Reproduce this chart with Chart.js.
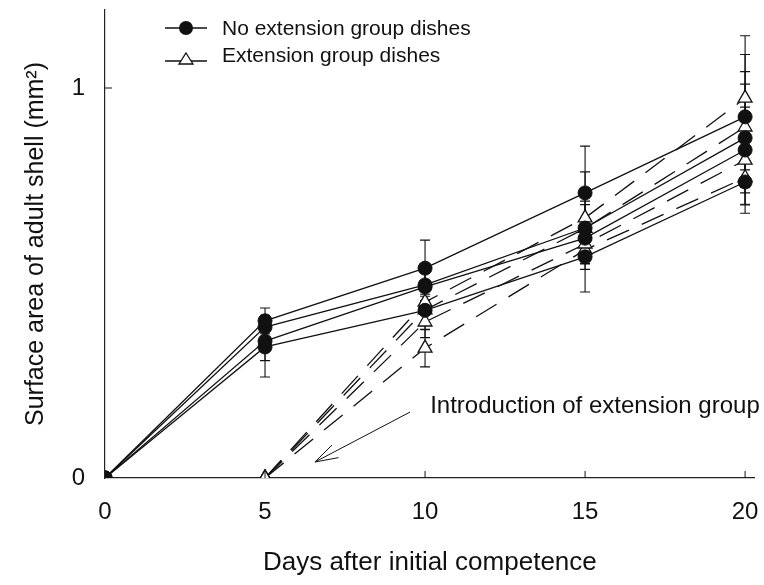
<!DOCTYPE html>
<html>
<head>
<meta charset="utf-8">
<script src="https://cdn.jsdelivr.net/npm/chart.js@4.4.1/dist/chart.umd.min.js"></script>
<style>
  body { margin: 0; background: #fff; }
</style>
</head>
<body>
<canvas id="myChart" width="764" height="585"></canvas>
<script>
// days on x axis
const days = [0, 5, 10, 15, 20];
const extDays = [5, 10, 15, 20];

// no extension group dishes (filled circles)
const noExt1 = [0, 0.403, 0.538, 0.731, 0.926];
const noExt2 = [0, 0.387, 0.495, 0.641, 0.872];
const noExt3 = [0, 0.351, 0.490, 0.615, 0.841];
const noExt4 = [0, 0.336, 0.430, 0.567, 0.759];
const noExt1Err = [0, 0.033, 0.072, 0.120, 0.160];
const noExt2Err = [0, 0.030, 0.040, 0.060, 0.170];
const noExt3Err = [0, 0.050, 0.050, 0.050, 0.110];
const noExt4Err = [0, 0.077, 0.050, 0.090, 0.080];

// extension group dishes (open triangles)
const ext1 = [0, 0.451, 0.667, 0.974];
const ext2 = [0, 0.431, 0.640, 0.900];
const ext3 = [0, 0.400, 0.600, 0.815];
const ext4 = [0, 0.333, 0.585, 0.770];
const ext1Err = [0, 0.050, 0.118, 0.160];
const ext2Err = [0, 0.040, 0.070, 0.110];
const ext3Err = [0, 0.040, 0.050, 0.070];
const ext4Err = [0, 0.048, 0.050, 0.070];

const xTicks = [0, 5, 10, 15, 20];
const yTicks = [0, 1];

const legendLabels = ['No extension group dishes', 'Extension group dishes'];
const noteText = 'Introduction of extension group';
// annotation position in data units
const noteAt = { x: 10.16, y: 0.167 };
const arrowFrom = { x: 9.53, y: 0.169 };
const arrowTo = { x: 6.56, y: 0.041 };

const ink = '#111';
const fontFamily = "'Liberation Sans', Arial, Helvetica, sans-serif";
Chart.defaults.font.family = fontFamily;
Chart.defaults.color = ink;

function pts(xs, ys) {
    return xs.map((x, i) => ({ x: x, y: ys[i] }));
}

function circleSet(vals, errs) {
    return {
        data: pts(days, vals),
        errs: errs,
        borderColor: ink,
        borderWidth: 1.3,
        pointStyle: 'circle',
        pointRadius: 7,
        pointBackgroundColor: ink,
        pointBorderColor: ink,
        pointBorderWidth: 1,
        tension: 0
    };
}

function triangleSet(vals, errs) {
    return {
        data: pts(extDays, vals),
        errs: errs,
        borderColor: ink,
        borderWidth: 1.3,
        borderDash: [24, 14],
        pointStyle: 'triangle',
        pointRadius: 8,
        pointBackgroundColor: '#fff',
        pointBorderColor: ink,
        pointBorderWidth: 1.3,
        tension: 0
    };
}

// vertical error bars with small caps
const errorBars = {
    id: 'errorBars',
    beforeDatasetsDraw(chart) {
        const ctx = chart.ctx;
        const ys = chart.scales.y;
        ctx.save();
        ctx.strokeStyle = ink;
        ctx.lineWidth = 1.1;
        chart.data.datasets.forEach((ds, di) => {
            const meta = chart.getDatasetMeta(di);
            ds.data.forEach((p, i) => {
                const e = ds.errs[i];
                if (!e) return;
                const px = meta.data[i].x;
                const top = ys.getPixelForValue(p.y + e);
                const bot = ys.getPixelForValue(p.y - e);
                ctx.beginPath();
                ctx.moveTo(px, top); ctx.lineTo(px, bot);
                ctx.moveTo(px - 5, top); ctx.lineTo(px + 5, top);
                ctx.moveTo(px - 5, bot); ctx.lineTo(px + 5, bot);
                ctx.stroke();
            });
        });
        ctx.restore();
    }
};

// inward tick marks, legend and annotation
const extras = {
    id: 'extras',
    afterDraw(chart) {
        const ctx = chart.ctx;
        const xs = chart.scales.x, ys = chart.scales.y;
        const area = chart.chartArea;
        ctx.save();
        ctx.strokeStyle = ink;
        ctx.lineWidth = 1;
        ctx.beginPath();
        xTicks.forEach(v => {
            if (v === 0) return;
            const px = xs.getPixelForValue(v);
            ctx.moveTo(px, area.bottom); ctx.lineTo(px, area.bottom - 7);
        });
        yTicks.forEach(v => {
            if (v === 0) return;
            const py = ys.getPixelForValue(v);
            ctx.moveTo(area.left, py); ctx.lineTo(area.left + 7, py);
        });
        ctx.stroke();

        // legend
        ctx.font = '21px ' + fontFamily;
        ctx.fillStyle = ink;
        ctx.textBaseline = 'middle';
        ctx.lineWidth = 1.3;
        const rows = [28, 59];
        ctx.beginPath();
        ctx.moveTo(165, rows[0]); ctx.lineTo(207, rows[0]);
        ctx.moveTo(165, rows[1] + 2); ctx.lineTo(207, rows[1] + 2);
        ctx.stroke();
        ctx.beginPath();
        ctx.arc(186, rows[0], 7, 0, Math.PI * 2);
        ctx.fill();
        ctx.beginPath();
        ctx.moveTo(186, rows[1] - 6);
        ctx.lineTo(193, rows[1] + 5);
        ctx.lineTo(179, rows[1] + 5);
        ctx.closePath();
        ctx.fillStyle = '#fff';
        ctx.fill();
        ctx.stroke();
        ctx.fillStyle = ink;
        ctx.fillText(legendLabels[0], 222, rows[0] + 1);
        ctx.fillText(legendLabels[1], 222, rows[1] - 3);

        // annotation
        ctx.font = '24px ' + fontFamily;
        ctx.textBaseline = 'alphabetic';
        ctx.fillText(noteText, xs.getPixelForValue(noteAt.x), ys.getPixelForValue(noteAt.y));
        const ax = xs.getPixelForValue(arrowFrom.x), ay = ys.getPixelForValue(arrowFrom.y);
        const bx = xs.getPixelForValue(arrowTo.x), by = ys.getPixelForValue(arrowTo.y);
        const ang = Math.atan2(ay - by, ax - bx);
        ctx.lineWidth = 1;
        ctx.beginPath();
        ctx.moveTo(ax, ay); ctx.lineTo(bx, by);
        ctx.moveTo(bx + 24 * Math.cos(ang + 0.3), by + 24 * Math.sin(ang + 0.3));
        ctx.lineTo(bx, by);
        ctx.lineTo(bx + 24 * Math.cos(ang - 0.3), by + 24 * Math.sin(ang - 0.3));
        ctx.stroke();
        ctx.restore();
    }
};

const ctx = document.getElementById('myChart').getContext('2d');
const chart = new Chart(ctx, {
    type: 'line',
    data: {
        datasets: [
            circleSet(noExt1, noExt1Err),
            circleSet(noExt2, noExt2Err),
            circleSet(noExt3, noExt3Err),
            circleSet(noExt4, noExt4Err),
            triangleSet(ext1, ext1Err),
            triangleSet(ext2, ext2Err),
            triangleSet(ext3, ext3Err),
            triangleSet(ext4, ext4Err)
        ]
    },
    options: {
        responsive: false,
        animation: false,
        layout: { padding: { left: 0, right: 0, top: 10, bottom: 0 } },
        plugins: { legend: { display: false }, tooltip: { enabled: false } },
        scales: {
            x: {
                type: 'linear',
                min: 0,
                max: 20.3,
                afterBuildTicks: s => { s.ticks = xTicks.map(v => ({ value: v })); },
                afterFit: s => { s.height = 107; s.paddingLeft = 0; s.paddingRight = 0; },
                grid: { display: false, drawTicks: false },
                border: { display: true, color: '#222', width: 1.2 },
                ticks: { font: { size: 24 }, color: ink, padding: 20, maxRotation: 0 },
                title: { display: true, text: 'Days after initial competence', font: { size: 26 }, color: ink, padding: { top: 0, bottom: 7 } }
            },
            y: {
                min: 0,
                max: 1.2,
                afterBuildTicks: s => { s.ticks = yTicks.map(v => ({ value: v })); },
                afterFit: s => { s.width = 105; s.paddingTop = 0; s.paddingBottom = 0; },
                grid: { display: false, drawTicks: false },
                border: { display: true, color: '#222', width: 1.2 },
                ticks: { font: { size: 24 }, color: ink, padding: 20 },
                title: { display: true, text: 'Surface area of adult shell (mm²)', font: { size: 25 }, color: ink, padding: { top: 21, bottom: 0 } }
            }
        }
    },
    plugins: [errorBars, extras]
});
</script>
</body>
</html>
